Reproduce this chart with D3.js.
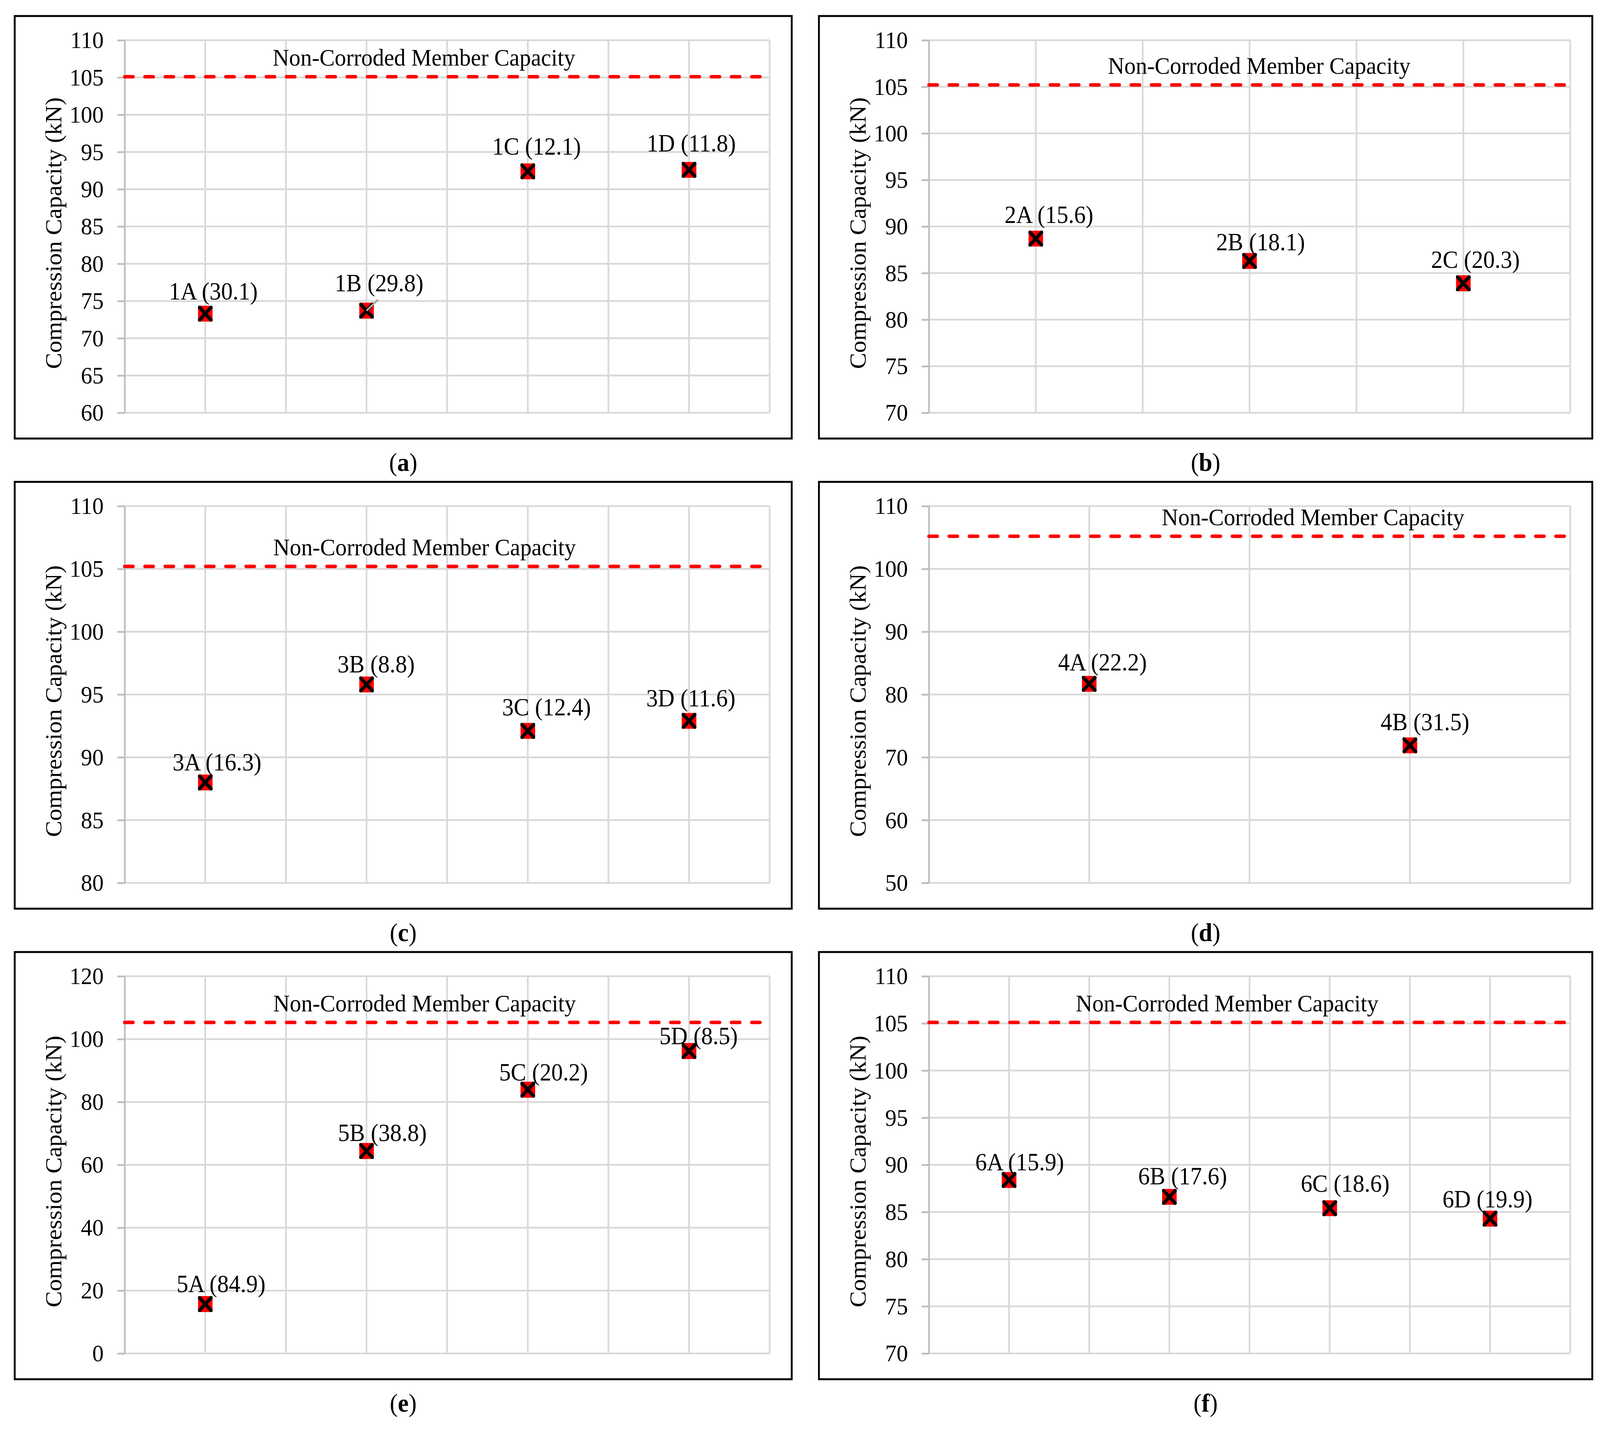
<!DOCTYPE html>
<html>
<head>
<meta charset="utf-8">
<script src="https://cdn.jsdelivr.net/npm/d3@7"></script>
<style>
  html, body { margin: 0; padding: 0; background: #fff; overflow: hidden; }
  svg { display: block; width: 100vw; height: 100vh; }
  text { font-family: "Liberation Serif", "Times New Roman", serif; }
</style>
</head>
<body>
<script>
// values (capacity in kN, corrosion loss in brackets)
var specimensA = ['1A', '1B', '1C', '1D'];
var capacityA  = [73.3, 73.7, 92.4, 92.6];
var lossA      = [30.1, 29.8, 12.1, 11.8];
var ticksA     = [60, 65, 70, 75, 80, 85, 90, 95, 100, 105, 110];

var specimensB = ['2A', '2B', '2C'];
var capacityB  = [88.7, 86.3, 83.9];
var lossB      = [15.6, 18.1, 20.3];
var ticksB     = [70, 75, 80, 85, 90, 95, 100, 105, 110];

var specimensC = ['3A', '3B', '3C', '3D'];
var capacityC  = [88.0, 95.8, 92.1, 92.9];
var lossC      = [16.3, 8.8, 12.4, 11.6];
var ticksC     = [80, 85, 90, 95, 100, 105, 110];

var specimensD = ['4A', '4B'];
var capacityD  = [81.7, 71.9];
var lossD      = [22.2, 31.5];
var ticksD     = [50, 60, 70, 80, 90, 100, 110];

var specimensE = ['5A', '5B', '5C', '5D'];
var capacityE  = [15.7, 64.4, 83.9, 96.2];
var lossE      = [84.9, 38.8, 20.2, 8.5];
var ticksE     = [0, 20, 40, 60, 80, 100, 120];

var specimensF = ['6A', '6B', '6C', '6D'];
var capacityF  = [88.4, 86.6, 85.4, 84.3];
var lossF      = [15.9, 17.6, 18.6, 19.9];
var ticksF     = [70, 75, 80, 85, 90, 95, 100, 105, 110];

var nonCorroded = [105.1, 105.2, 105.2, 105.2, 105.3, 105.1];
var panelIds = ['a', 'b', 'c', 'd', 'e', 'f'];
var refLabel = 'Non-Corroded Member Capacity';
var yTitle = 'Compression Capacity (kN)';

var panels = [
  {names: specimensA, values: capacityA, loss: lossA, ticks: ticksA},
  {names: specimensB, values: capacityB, loss: lossB, ticks: ticksB},
  {names: specimensC, values: capacityC, loss: lossC, ticks: ticksC},
  {names: specimensD, values: capacityD, loss: lossD, ticks: ticksD},
  {names: specimensE, values: capacityE, loss: lossE, ticks: ticksE},
  {names: specimensF, values: capacityF, loss: lossF, ticks: ticksF}
];

// layout only: where the labels sit relative to their marker (px)
var labelShift = [
  [[22, -36], [34, -50], [24, -43], [6, -47]],
  [[36, -40], [30, -27], [33, -39]],
  [[32, -31], [26, -31], [51, -40], [5, -37]],
  [[36, -34], [41, -39]],
  [[43, -31], [43, -26], [43, -24], [26, -18]],
  [[29, -25], [36, -32], [42, -42], [-7, -29]]
];
var refLabelPos = [0.464, 0.515, 0.465, 0.599, 0.465, 0.465];

var W = 4351, H = 3662;
var cols = [[40, 2153], [2227, 4330]];
var rows = [[41, 1123], [1234, 2327], [2438, 3532]];
var inset = {left: 299, right: 60, top: 62, bottom: 66};

// drawn in the reference's pixel space, stretched to whatever the viewport is
var svg = d3.select('body').append('svg')
  .attr('viewBox', '0 0 ' + W + ' ' + H)
  .attr('preserveAspectRatio', 'none');
svg.append('rect').attr('width', W).attr('height', H).attr('fill', '#fff');

svg.append('defs').append('clipPath').attr('id', 'mk')
  .append('rect').attr('x', -20).attr('y', -20.5).attr('width', 40).attr('height', 41).attr('rx', 4);

panels.forEach(function (p, k) {
  var col = cols[k % 2], row = rows[Math.floor(k / 2)];
  var g = svg.append('g');

  g.append('rect')
    .attr('x', col[0]).attr('y', row[0])
    .attr('width', col[1] - col[0]).attr('height', row[1] - row[0])
    .attr('fill', 'none').attr('stroke', '#000').attr('stroke-width', 5);

  var x0 = col[0] + inset.left, x1 = col[1] - inset.right;
  var y0 = row[0] + inset.top, y1 = row[1] - inset.bottom;
  var n = p.names.length;

  var x = d3.scaleLinear().domain([0, n]).range([x0, x1]);
  var y = d3.scaleLinear().domain([p.ticks[0], p.ticks[p.ticks.length - 1]]).range([y1, y0]);

  // grid
  g.selectAll('.hg').data(p.ticks).enter().append('line')
    .attr('x1', x0).attr('x2', x1)
    .attr('y1', function (d) { return y(d); }).attr('y2', function (d) { return y(d); })
    .attr('stroke', '#d9d9d9').attr('stroke-width', 4.7);

  g.selectAll('.vg').data(d3.range(1, 2 * n + 1).map(function (d) { return d / 2; })).enter().append('line')
    .attr('x1', function (d) { return x(d); }).attr('x2', function (d) { return x(d); })
    .attr('y1', y0).attr('y2', y1)
    .attr('stroke', '#d9d9d9').attr('stroke-width', 4.7);

  // y axis
  var ax = g.append('g')
    .attr('transform', 'translate(' + x0 + ',0)')
    .call(d3.axisLeft(y).tickValues(p.ticks).tickSize(20).tickSizeOuter(0).tickPadding(37));
  ax.attr('font-family', '"Liberation Serif", "Times New Roman", serif').attr('font-size', 62);
  ax.select('.domain').attr('stroke', '#bfbfbf').attr('stroke-width', 4.7);
  ax.selectAll('.tick line').attr('stroke', '#bfbfbf').attr('stroke-width', 4.7);
  ax.selectAll('.tick text').attr('fill', '#000');

  // non-corroded capacity
  var yr = y(nonCorroded[k]);
  g.append('line')
    .attr('x1', x0).attr('x2', x1 - 6).attr('y1', yr).attr('y2', yr)
    .attr('stroke', '#ff0000').attr('stroke-width', 9)
    .attr('stroke-dasharray', '23 32').attr('stroke-linecap', 'round');
  g.append('text')
    .attr('x', x0 + refLabelPos[k] * (x1 - x0)).attr('y', yr - 28)
    .attr('text-anchor', 'middle').attr('font-size', 62)
    .text(refLabel);

  // markers
  var mk = g.selectAll('.mk').data(p.values).enter().append('g')
    .attr('transform', function (d, i) { return 'translate(' + x(i + 0.5) + ',' + y(d) + ')'; });
  var box = mk.append('g').attr('clip-path', 'url(#mk)');
  box.append('rect')
    .attr('x', -20).attr('y', -20.5).attr('width', 40).attr('height', 41).attr('rx', 4)
    .attr('fill', '#ff0000');
  box.append('line').attr('x1', -20).attr('y1', -20.5).attr('x2', 20).attr('y2', 20.5)
    .attr('stroke', '#000').attr('stroke-width', 9);
  box.append('line').attr('x1', 20).attr('y1', -20.5).attr('x2', -20).attr('y2', 20.5)
    .attr('stroke', '#000').attr('stroke-width', 9);
  // leader line that Excel drew for the dragged 1B label
  mk.filter(function (d, i) { return k === 0 && i === 1; }).append('line')
    .attr('x1', 0).attr('y1', 0).attr('x2', 31).attr('y2', -28)
    .attr('stroke', '#a6a6a6').attr('stroke-width', 5);

  // data labels
  g.selectAll('.lbl').data(p.values).enter().append('text')
    .attr('x', function (d, i) { return x(i + 0.5) + labelShift[k][i][0]; })
    .attr('y', function (d, i) { return y(d) + labelShift[k][i][1]; })
    .attr('text-anchor', 'middle').attr('font-size', 63)
    .text(function (d, i) { return p.names[i] + ' (' + p.loss[i].toFixed(1) + ')'; });

  // axis title
  g.append('text')
    .attr('transform', 'translate(' + (col[0] + 127) + ',' + ((y0 + y1) / 2 + 17) + ') rotate(-90)')
    .attr('text-anchor', 'middle').attr('font-size', 62)
    .text(yTitle);

  // panel letter
  var pl = g.append('text')
    .attr('x', (col[0] + col[1]) / 2).attr('y', row[1] + 83)
    .attr('text-anchor', 'middle').attr('font-size', 66);
  pl.append('tspan').text('(');
  pl.append('tspan').attr('font-weight', 'bold').text(panelIds[k]);
  pl.append('tspan').text(')');
});
</script>
</body>
</html>
